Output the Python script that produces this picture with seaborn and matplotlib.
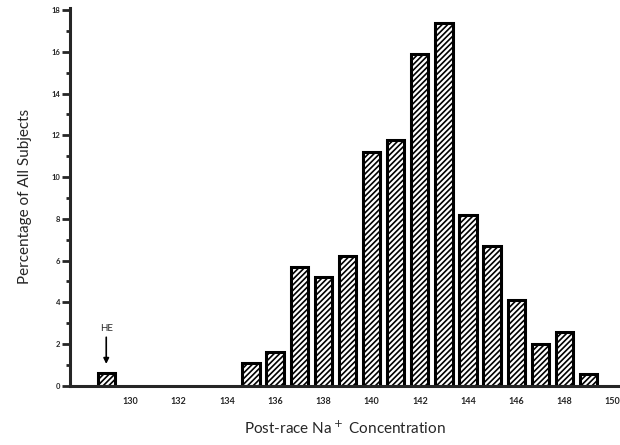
import matplotlib
matplotlib.use("Agg")
import matplotlib.pyplot as plt
import seaborn as sns
import pandas as pd

# Post-race sodium concentration (mmol/L) and percentage of subjects
na_conc = [129, 135, 136, 137, 138, 139, 140, 141, 142, 143, 144, 145, 146, 147, 148, 149]
pct_subjects = [0.6, 1.1, 1.6, 5.7, 5.2, 6.2, 11.2, 11.8, 15.9, 17.4, 8.2, 6.7, 4.1, 2.0, 2.6, 0.55]
x_ticks = [130, 132, 134, 136, 138, 140, 142, 144, 146, 148, 150]
y_ticks = [0, 2, 4, 6, 8, 10, 12, 14, 16, 18]

df = pd.DataFrame({"na": na_conc, "pct": pct_subjects})

sns.set_style("ticks")
plt.rcParams["font.family"] = ["Lato", "DejaVu Sans"]
plt.rcParams["hatch.linewidth"] = 1.2

fig = plt.figure(figsize=(6.2, 4.45), dpi=100)
ax = fig.add_axes([0.113, 0.133, 0.887, 0.849])

sns.barplot(data=df, x="na", y="pct", native_scale=True, width=0.72,
            color="white", edgecolor="black", linewidth=2.2, ax=ax)
for bar in ax.patches:
    bar.set_hatch("//////")

ax.set_xlim(127.5, 150.3)
ax.set_ylim(0, 18.1)
ax.set_xticks(x_ticks)
ax.set_xticklabels([str(t) for t in x_ticks], fontsize=6.5, fontweight="bold")
ax.set_yticks(y_ticks)
ax.set_yticklabels([str(t) for t in y_ticks], fontsize=5.5, fontweight="bold")
ax.set_yticks(range(1, 18, 2), minor=True)
ax.tick_params(axis="x", length=0, pad=8)
ax.tick_params(axis="y", which="major", length=6, width=2, direction="out", pad=1)
ax.tick_params(axis="y", which="minor", length=3, width=2, direction="out")

for side in ["top", "right"]:
    ax.spines[side].set_visible(False)
ax.spines["left"].set_linewidth(2.2)
ax.spines["bottom"].set_linewidth(2.2)

ax.set_xlabel("Post-race Na$^+$ Concentration", fontsize=11, labelpad=10)
ax.set_ylabel("Percentage of All Subjects", fontsize=11, labelpad=14)

ax.annotate("HE", xy=(129, 1.05), xytext=(129, 2.55), ha="center", va="bottom",
            fontsize=7, arrowprops=dict(arrowstyle="-|>", color="black", lw=1.2,
                                        mutation_scale=8, shrinkA=1, shrinkB=0))

fig.savefig("out.png", dpi=100)
